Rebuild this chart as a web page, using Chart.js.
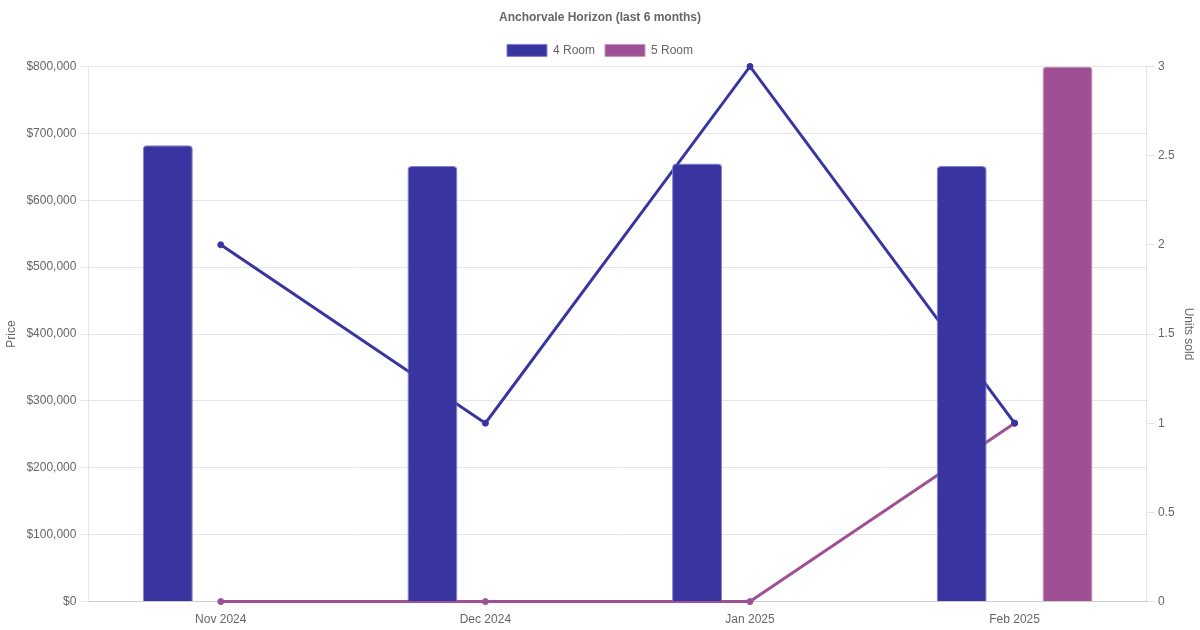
<!DOCTYPE html>
<html>
<head>
<meta charset="utf-8">
<script src="https://cdn.jsdelivr.net/npm/chart.js@4"></script>
<style>
  html, body { margin: 0; padding: 0; background: #fff; }
  #wrap { width: 1200px; height: 630px; }
</style>
</head>
<body>
<div id="wrap"><canvas id="chart"></canvas></div>
<script>
// data
const months = ['Nov 2024', 'Dec 2024', 'Jan 2025', 'Feb 2025'];
const price4Room = [682000, 651000, 655000, 651000];
const price5Room = [null, null, null, 800000];
const units4Room = [2, 1, 3, 1];
const units5Room = [0, 0, 0, 1];

const color4 = '#3935a0';
const color5 = '#9f5094';

Chart.defaults.font.size = 12;
Chart.defaults.color = '#666';

const chart = new Chart(document.getElementById('chart'), {
    type: 'bar',
    data: {
        labels: months,
        datasets: [{
            label: '4 Room',
            data: price4Room,
            backgroundColor: color4,
            borderColor: '#8481d4',
            borderWidth: 1,
            borderRadius: 4,
            maxBarThickness: 50,
            yAxisID: 'y'
        }, {
            label: '5 Room',
            data: price5Room,
            backgroundColor: color5,
            borderColor: '#c995c0',
            borderWidth: 1,
            borderRadius: 4,
            maxBarThickness: 50,
            yAxisID: 'y'
        }, {
            type: 'line',
            label: '4 Room units',
            data: units4Room,
            borderColor: color4,
            backgroundColor: color4,
            borderWidth: 3,
            pointRadius: 3,
            pointBorderWidth: 1,
            clip: false,
            yAxisID: 'y1'
        }, {
            type: 'line',
            label: '5 Room units',
            data: units5Room,
            borderColor: color5,
            backgroundColor: color5,
            borderWidth: 3,
            pointRadius: 3,
            pointBorderWidth: 1,
            clip: false,
            yAxisID: 'y1'
        }]
    },
    options: {
        responsive: true,
        maintainAspectRatio: false,
        animation: false,
        plugins: {
            title: {
                display: true,
                text: 'Anchorvale Horizon (last 6 months)',
                font: { size: 12, weight: 'bold' },
                color: '#666'
            },
            legend: {
                labels: {
                    boxWidth: 40,
                    boxHeight: 12,
                    filter: function(item) {
                        return item.datasetIndex < 2
                    }
                }
            }
        },
        scales: {
            x: {
                grid: { display: false }
            },
            y: {
                position: 'left',
                min: 0,
                max: 800000,
                ticks: {
                    stepSize: 100000,
                    padding: 4,
                    callback: function(v) {
                        return '$' + v.toLocaleString('en-US')
                    }
                },
                title: { display: true, text: 'Price' }
            },
            y1: {
                position: 'right',
                min: 0,
                ticks: {
                    stepSize: 0.5,
                    callback: function(v) {
                        return String(v)
                    }
                },
                grid: { drawOnChartArea: false },
                title: { display: true, text: 'Units sold' }
            }
        }
    }
});
</script>
</body>
</html>
